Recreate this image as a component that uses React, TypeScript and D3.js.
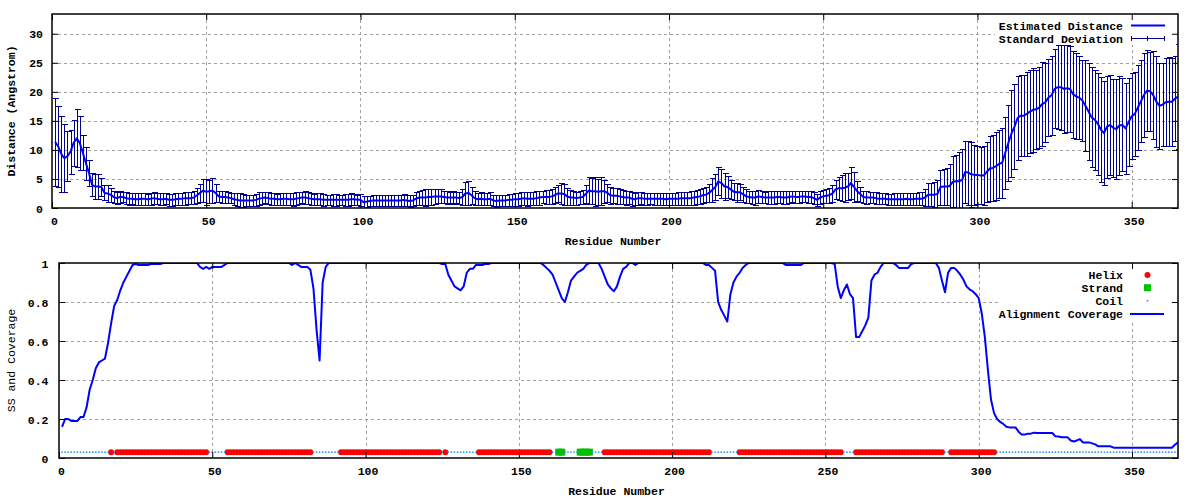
import React, { useEffect, useRef } from 'react';
import * as d3 from 'd3';

// residue 1..365, one value per residue
const DISTANCE = [
  11.4, 10.6, 9.3, 8.6, 8.9, 9.7, 11.2, 12.0, 11.2, 9.5,
  7.7, 6.0, 4.0, 3.7, 3.7, 3.6, 2.6, 2.5, 2.3, 1.9,
  1.7, 1.9, 1.9, 1.7, 1.6, 1.6, 1.5, 1.5, 1.6, 1.6,
  1.5, 1.6, 1.7, 1.6, 1.5, 1.5, 1.6, 1.4, 1.4, 1.5,
  1.6, 1.6, 1.7, 1.7, 1.7, 1.8, 2.2, 2.6, 3.0, 2.8,
  2.9, 3.0, 2.6, 2.0, 1.9, 1.9, 1.8, 1.7, 1.5, 1.4,
  1.3, 1.3, 1.3, 1.3, 1.3, 1.4, 1.6, 1.7, 1.8, 1.7,
  1.6, 1.6, 1.5, 1.5, 1.6, 1.6, 1.5, 1.5, 1.6, 1.7,
  1.8, 1.8, 1.7, 1.6, 1.5, 1.5, 1.5, 1.4, 1.4, 1.4,
  1.4, 1.4, 1.4, 1.4, 1.4, 1.4, 1.5, 1.5, 1.4, 1.4,
  1.0, 1.1, 1.2, 1.3, 1.3, 1.3, 1.3, 1.3, 1.3, 1.3,
  1.3, 1.3, 1.3, 1.4, 1.3, 1.2, 1.3, 1.6, 1.8, 1.8,
  1.8, 1.9, 1.9, 2.0, 2.0, 2.0, 1.9, 1.8, 1.8, 1.8,
  1.8, 1.7, 1.9, 2.5, 2.6, 2.2, 1.7, 1.5, 1.6, 1.5,
  1.5, 1.6, 1.3, 1.2, 1.3, 1.3, 1.3, 1.4, 1.4, 1.5,
  1.5, 1.6, 1.7, 1.6, 1.6, 1.6, 1.7, 1.8, 1.9, 1.9,
  1.9, 2.0, 2.2, 2.5, 2.5, 2.4, 2.0, 1.8, 1.8, 1.7,
  1.8, 1.9, 2.4, 3.0, 2.9, 2.9, 2.8, 2.9, 2.9, 2.6,
  2.2, 2.1, 2.1, 2.0, 1.9, 1.8, 1.8, 1.6, 1.5, 1.7,
  1.7, 1.6, 1.6, 1.6, 1.6, 1.6, 1.6, 1.6, 1.5, 1.6,
  1.6, 1.6, 1.6, 1.7, 1.7, 1.7, 1.7, 1.8, 1.9, 2.0,
  2.2, 2.3, 2.6, 3.1, 3.6, 4.6, 4.3, 3.7, 3.6, 3.2,
  2.8, 2.7, 2.7, 2.4, 2.0, 1.9, 1.8, 1.8, 2.0, 1.9,
  1.8, 1.8, 1.8, 1.8, 1.9, 1.9, 1.8, 1.8, 1.9, 2.0,
  1.9, 1.9, 2.0, 2.0, 1.9, 1.9, 1.7, 1.4, 1.8, 2.0,
  2.1, 2.2, 2.5, 3.2, 3.4, 3.4, 3.5, 3.7, 4.3, 3.6,
  2.9, 2.4, 1.9, 1.8, 1.8, 1.8, 1.7, 1.6, 1.6, 1.6,
  1.5, 1.5, 1.5, 1.5, 1.5, 1.5, 1.6, 1.5, 1.5, 1.6,
  1.6, 1.6, 1.8, 2.3, 2.3, 2.3, 2.4, 3.6, 3.7, 3.7,
  3.8, 4.5, 4.6, 4.6, 4.8, 6.2, 6.1, 5.8, 5.7, 5.7,
  5.6, 5.6, 6.2, 6.8, 6.9, 7.2, 7.6, 7.8, 9.5, 11.2,
  12.8, 14.0, 15.5, 15.9, 15.9, 16.2, 16.6, 16.9, 17.0, 17.3,
  17.9, 18.2, 19.0, 19.4, 20.5, 20.8, 20.8, 20.5, 20.6, 20.5,
  19.6, 19.2, 19.0, 18.5, 17.6, 16.6, 15.6, 15.2, 14.5, 13.5,
  12.9, 14.0, 14.3, 13.8, 13.6, 14.2, 14.3, 13.7, 14.8, 15.8,
  16.2, 17.3, 18.4, 19.5, 20.2, 20.1, 19.4, 18.3, 17.6, 17.8,
  18.2, 18.3, 18.3, 18.8, 19.2,
];

const STD_DEV = [
  7.6, 7.0, 6.5, 5.8, 4.3, 3.8, 4.0, 5.0, 4.6, 3.0,
  2.8, 2.2, 2.0, 2.1, 2.1, 1.6, 1.3, 1.4, 1.2, 1.0,
  1.0, 1.0, 0.9, 1.0, 1.0, 0.9, 1.0, 1.0, 1.0, 1.0,
  0.9, 1.0, 1.0, 0.9, 1.0, 1.0, 0.9, 1.0, 1.0, 1.0,
  1.0, 1.0, 1.1, 1.0, 1.0, 1.1, 1.3, 1.5, 2.0, 2.2,
  2.0, 2.1, 1.6, 1.0, 1.0, 1.0, 0.9, 0.9, 1.0, 1.1,
  1.2, 1.1, 1.0, 0.9, 1.0, 1.0, 1.1, 1.0, 1.0, 1.0,
  1.0, 1.0, 0.9, 1.0, 1.0, 1.0, 1.0, 1.1, 1.1, 1.0,
  1.0, 1.1, 1.0, 1.0, 0.9, 1.0, 1.0, 1.0, 0.9, 0.9,
  1.0, 1.0, 0.9, 0.9, 1.0, 1.0, 1.0, 0.9, 0.9, 1.0,
  1.0, 1.0, 0.9, 0.9, 1.0, 1.0, 1.0, 0.9, 0.9, 1.0,
  1.0, 0.9, 0.9, 1.0, 1.0, 1.0, 1.0, 1.1, 1.2, 1.3,
  1.4, 1.3, 1.4, 1.3, 1.2, 1.2, 1.1, 1.1, 1.0, 1.1,
  1.0, 1.0, 1.3, 1.9, 2.0, 1.5, 1.2, 1.0, 1.1, 1.0,
  1.0, 1.1, 1.0, 1.0, 0.9, 0.9, 1.0, 1.0, 1.0, 1.1,
  1.1, 1.1, 1.1, 1.2, 1.1, 1.1, 1.2, 1.2, 1.1, 1.2,
  1.2, 1.3, 1.4, 1.5, 1.8, 1.8, 1.5, 1.3, 1.2, 1.1,
  1.1, 1.2, 1.6, 2.3, 2.2, 2.5, 2.2, 2.4, 2.0, 1.6,
  1.5, 1.3, 1.4, 1.3, 1.2, 1.2, 1.1, 1.2, 1.0, 1.1,
  1.0, 1.0, 1.0, 0.9, 1.0, 1.0, 1.0, 1.0, 1.0, 1.0,
  1.0, 1.0, 1.1, 1.1, 1.1, 1.1, 1.2, 1.2, 1.2, 1.3,
  1.3, 1.3, 1.5, 2.0, 2.3, 2.4, 2.5, 2.3, 1.9, 1.6,
  1.5, 1.6, 1.4, 1.3, 1.2, 1.1, 1.1, 1.2, 1.1, 1.1,
  1.0, 1.1, 1.1, 1.1, 1.1, 1.0, 1.1, 1.1, 1.1, 1.0,
  1.0, 1.0, 1.0, 1.0, 1.1, 1.0, 1.0, 1.0, 1.1, 1.1,
  1.2, 1.3, 1.4, 1.6, 2.0, 2.2, 2.5, 2.4, 2.7, 2.6,
  1.7, 1.3, 1.1, 1.1, 1.0, 1.0, 1.0, 0.9, 0.9, 0.9,
  0.9, 0.9, 1.0, 1.0, 1.0, 1.0, 1.0, 1.0, 1.0, 1.0,
  1.1, 1.1, 1.5, 2.0, 2.0, 2.1, 2.4, 3.0, 3.1, 3.2,
  3.8, 4.4, 4.6, 5.0, 5.3, 5.3, 5.5, 5.6, 5.2, 5.0,
  4.9, 5.0, 5.2, 5.6, 5.7, 5.9, 5.9, 6.0, 6.2, 6.5,
  7.5, 7.3, 7.2, 7.0, 7.0, 7.3, 7.2, 7.2, 6.8, 7.0,
  7.2, 6.8, 6.6, 6.8, 6.8, 7.2, 7.3, 7.6, 7.5, 7.4,
  7.5, 7.4, 7.2, 7.0, 7.8, 8.4, 8.6, 8.6, 8.8, 9.0,
  9.0, 8.8, 8.6, 8.4, 8.6, 8.6, 8.0, 7.8, 7.6, 7.4,
  7.2, 7.3, 7.0, 7.2, 7.0, 6.8, 7.6, 7.8, 7.4, 7.2,
  7.6, 7.7, 7.6, 7.3, 9.0,
];

const COVERAGE = [
  0.16, 0.20, 0.20, 0.19, 0.19, 0.19, 0.21, 0.21, 0.26, 0.35,
  0.40, 0.46, 0.49, 0.50, 0.51, 0.59, 0.69, 0.78, 0.81, 0.86,
  0.90, 0.93, 0.96, 0.99, 0.995, 0.99, 0.99, 0.99, 0.99, 0.995,
  0.995, 0.995, 0.995, 1, 1, 1, 1, 1, 1, 1,
  1, 1, 1, 1, 1, 0.98, 0.97, 0.98, 0.97, 0.98,
  0.98, 0.98, 0.98, 0.99, 1, 1, 1, 1, 1, 1,
  1, 1, 1, 1, 1, 1, 1, 1, 1, 1,
  1, 1, 1, 1, 1, 0.99, 1, 0.99, 0.98, 0.98,
  0.98, 0.965, 0.87, 0.66, 0.50, 0.90, 0.98, 1, 1, 1,
  1, 1, 1, 1, 1, 1, 1, 1, 1, 1,
  1, 1, 1, 1, 1, 1, 1, 1, 1, 1,
  1, 1, 1, 1, 1, 1, 1, 1, 1, 1,
  1, 1, 1, 1, 0.995, 0.995, 0.94, 0.91, 0.88, 0.87,
  0.86, 0.88, 0.95, 0.97, 0.97, 0.99, 0.99, 0.99, 0.995, 0.995,
  1, 1, 1, 1, 1, 1, 1, 1, 1, 1,
  1, 1, 1, 1, 1, 1, 1, 0.99, 0.975, 0.96,
  0.94, 0.90, 0.86, 0.82, 0.80, 0.85, 0.91, 0.93, 0.95, 0.96,
  0.97, 0.99, 1, 1, 1, 1, 0.97, 0.93, 0.89, 0.87,
  0.855, 0.88, 0.93, 0.97, 0.98, 1, 1, 0.99, 1, 1,
  1, 1, 1, 1, 1, 1, 1, 1, 1, 1,
  1, 1, 1, 1, 1, 1, 1, 1, 1, 1,
  0.99, 0.99, 0.975, 0.96, 0.80, 0.76, 0.73, 0.70, 0.84, 0.90,
  0.93, 0.95, 0.975, 0.99, 1, 1, 1, 1, 1, 1,
  1, 1, 1, 1, 1, 1, 0.99, 0.99, 0.99, 0.99,
  0.99, 0.99, 1, 1, 1, 1, 1, 1, 1, 1,
  1, 1, 0.995, 0.88, 0.82, 0.86, 0.89, 0.84, 0.82, 0.62,
  0.62, 0.65, 0.68, 0.72, 0.91, 0.94, 0.95, 0.98, 1, 1,
  1, 1, 0.99, 0.975, 0.975, 0.975, 0.975, 0.995, 1, 1,
  1, 1, 1, 1, 1, 1, 0.975, 0.91, 0.85, 0.95,
  0.975, 0.975, 0.96, 0.94, 0.915, 0.88, 0.865, 0.855, 0.84, 0.82,
  0.74, 0.62, 0.45, 0.30, 0.23, 0.20, 0.185, 0.175, 0.16, 0.157,
  0.157, 0.157, 0.135, 0.12, 0.12, 0.125, 0.125, 0.13, 0.128, 0.128,
  0.128, 0.128, 0.128, 0.128, 0.111, 0.11, 0.106, 0.106, 0.106, 0.09,
  0.085, 0.09, 0.097, 0.08, 0.08, 0.08, 0.075, 0.07, 0.06, 0.06,
  0.06, 0.06, 0.06, 0.053, 0.053, 0.053, 0.053, 0.053, 0.053, 0.053,
  0.053, 0.053, 0.053, 0.053, 0.053, 0.053, 0.053, 0.053, 0.053, 0.053,
  0.053, 0.053, 0.053, 0.068, 0.08,
];

// secondary structure segments [first residue, last residue]
const HELIX = [[17, 17], [19, 48], [55, 82], [92, 124], [126, 126], [137, 160],
  [178, 212], [222, 255], [260, 288], [291, 305]];
const STRAND = [[163, 164], [170, 173]];
const SS_LEVEL = 0.03;

const RES_TICKS = [0, 50, 100, 150, 200, 250, 300, 350];
const DIST_TICKS = [0, 5, 10, 15, 20, 25, 30];
const COVER_TICKS = [0, 0.2, 0.4, 0.6, 0.8, 1];

const MONO = '"Liberation Mono", "DejaVu Sans Mono", monospace';

const App = () => {
  const svgRef = useRef<SVGSVGElement>(null);

  useEffect(() => {
    const svg = d3.select(svgRef.current);
    svg.selectAll('*').remove();

    const nRes = DISTANCE.length;
    const residues = DISTANCE.map((_, i) => i + 1);

    const ssOf = (r: number) => {
      if (HELIX.some(([a, b]) => r >= a && r <= b)) return 'H';
      if (STRAND.some(([a, b]) => r >= a && r <= b)) return 'E';
      return 'C';
    };

    const frame = (box: any, x: any, y: any, yTicks: number[], yFmt: any, labelGap: number,
                   yTitle: string, yTitleBold: boolean, keyBox: number[], clipId: string) => {
      const grid = svg.append('g')
        .attr('stroke', '#a0a0a0')
        .attr('stroke-width', 1)
        .attr('stroke-dasharray', '3,3');
      grid.selectAll('line.gx').data(RES_TICKS.filter(t => t > 0)).join('line')
        .attr('class', 'gx')
        .attr('x1', d => Math.round(x(d)) + 0.5).attr('x2', d => Math.round(x(d)) + 0.5)
        .attr('y1', box.top).attr('y2', box.bottom);
      grid.selectAll('line.gy').data(yTicks.filter(t => t > 0 && t < y.domain()[1])).join('line')
        .attr('class', 'gy')
        .attr('x1', box.left).attr('x2', box.right)
        .attr('y1', d => Math.round(y(d)) + 0.5).attr('y2', d => Math.round(y(d)) + 0.5);

      // opaque key background
      svg.append('rect')
        .attr('x', keyBox[0]).attr('y', keyBox[1])
        .attr('width', keyBox[2] - keyBox[0]).attr('height', keyBox[3] - keyBox[1])
        .attr('fill', '#fff');

      svg.append('clipPath').attr('id', clipId)
        .append('rect')
        .attr('x', box.left).attr('y', box.top)
        .attr('width', box.right - box.left).attr('height', box.bottom - box.top);

      const finish = () => {
        const style = (g: any) => {
          g.select('.domain').remove();
          g.attr('font-family', MONO).attr('font-size', 11.5).attr('font-weight', 'bold');
          g.selectAll('line').attr('stroke', '#000');
        };
        svg.append('g')
          .attr('transform', `translate(0,${box.bottom})`)
          .call(d3.axisBottom(x).tickValues(RES_TICKS).tickSize(-6).tickFormat(d3.format('d')))
          .call(style)
          .call((g: any) => g.selectAll('text').attr('y', 13.4).attr('dy', '0.35em').attr('dx', 2));
        svg.append('g')
          .attr('transform', `translate(0,${box.top})`)
          .call(d3.axisTop(x).tickValues(RES_TICKS).tickSize(-6).tickFormat(() => ''))
          .call(style);
        svg.append('g')
          .attr('transform', `translate(${box.left},0)`)
          .call(d3.axisLeft(y).tickValues(yTicks).tickSize(-6).tickPadding(labelGap).tickFormat(yFmt))
          .call(style)
          .call((g: any) => g.selectAll('text').attr('dy', '0.35em'));
        svg.append('g')
          .attr('transform', `translate(${box.right},0)`)
          .call(d3.axisRight(y).tickValues(yTicks).tickSize(-6).tickFormat(() => ''))
          .call(style);

        svg.append('rect')
          .attr('x', box.left).attr('y', box.top)
          .attr('width', box.right - box.left).attr('height', box.bottom - box.top)
          .attr('fill', 'none').attr('stroke', '#000').attr('stroke-width', 1.5);

        svg.append('text')
          .attr('x', (box.left + box.right) / 2 - 2).attr('y', box.bottom + 33).attr('dy', '0.35em')
          .attr('text-anchor', 'middle')
          .attr('font-family', MONO).attr('font-size', 11.5).attr('font-weight', 'bold')
          .text('Residue Number');
        svg.append('text')
          .attr('transform', `translate(11,${(box.top + box.bottom) / 2}) rotate(-90)`)
          .attr('dy', '0.35em')
          .attr('text-anchor', 'middle')
          .attr('font-family', MONO).attr('font-size', 11.5)
          .attr('font-weight', yTitleBold ? 'bold' : 'normal')
          .text(yTitle);
      };
      return finish;
    };

    // ---------- top panel: distance ----------
    const TOP = { left: 52, right: 1178, top: 14, bottom: 208 };
    const x1 = d3.scaleLinear().domain([0, 365]).range([TOP.left, TOP.right]);
    const y1 = d3.scaleLinear().domain([0, 33.4]).range([TOP.bottom, TOP.top]);

    const finishTop = frame(TOP, x1, y1, DIST_TICKS, d3.format('d'), 9,
      'Distance (Angstrom)', true, [995, TOP.top, TOP.right, 45], 'clipTop');

    const topData = svg.append('g').attr('clip-path', 'url(#clipTop)');
    const bars = topData.append('g').attr('stroke', '#000090').attr('stroke-width', 1)
      .attr('shape-rendering', 'crispEdges');
    residues.forEach((r, i) => {
      const cx = Math.round(x1(r)) + 0.5;
      const lo = y1(DISTANCE[i] - STD_DEV[i]);
      const hi = y1(DISTANCE[i] + STD_DEV[i]);
      bars.append('line').attr('x1', cx).attr('x2', cx).attr('y1', lo).attr('y2', hi);
      bars.append('line').attr('x1', cx - 3).attr('x2', cx + 3).attr('y1', Math.round(lo) + 0.5).attr('y2', Math.round(lo) + 0.5);
      bars.append('line').attr('x1', cx - 3).attr('x2', cx + 3).attr('y1', Math.round(hi) + 0.5).attr('y2', Math.round(hi) + 0.5);
    });
    topData.append('path')
      .datum(DISTANCE)
      .attr('fill', 'none')
      .attr('stroke', '#0000ff')
      .attr('stroke-width', 2)
      .attr('stroke-linejoin', 'round')
      .attr('d', d3.line<number>().x((_, i) => x1(i + 1)).y(d => y1(d)));

    finishTop();

    // top key
    const keyText = (x: number, y: number, t: string) =>
      svg.append('text').attr('x', x).attr('y', y).attr('dy', '0.35em').attr('text-anchor', 'end')
        .attr('font-family', MONO).attr('font-size', 11.5).attr('font-weight', 'bold').text(t);
    keyText(1123, 25.7, 'Estimated Distance');
    keyText(1123, 38.7, 'Standard Deviation');
    svg.append('line').attr('x1', 1131).attr('x2', 1165).attr('y1', 25.5).attr('y2', 25.5)
      .attr('stroke', '#0000ff').attr('stroke-width', 2);
    const kb = svg.append('g').attr('stroke', '#000090').attr('stroke-width', 1).attr('shape-rendering', 'crispEdges');
    kb.append('line').attr('x1', 1131).attr('x2', 1165).attr('y1', 38.5).attr('y2', 38.5);
    [1131.5, 1147.5, 1164.5].forEach(px => {
      kb.append('line').attr('x1', px).attr('x2', px).attr('y1', 36).attr('y2', 41);
    });

    // ---------- bottom panel: SS and coverage ----------
    const BOT = { left: 59, right: 1178, top: 263, bottom: 458 };
    const x2 = d3.scaleLinear().domain([0, 365]).range([BOT.left, BOT.right]);
    const y2 = d3.scaleLinear().domain([0, 1]).range([BOT.bottom, BOT.top]);

    const finishBot = frame(BOT, x2, y2, COVER_TICKS, d3.format('~g'), 10.5,
      'SS and Coverage', false, [998, BOT.top, BOT.right, 321], 'clipBot');

    const botData = svg.append('g').attr('clip-path', 'url(#clipBot)');
    const ssY = y2(SS_LEVEL);
    botData.append('g').selectAll('circle')
      .data(residues.filter(r => ssOf(r) === 'H')).join('circle')
      .attr('cx', r => x2(r)).attr('cy', ssY).attr('r', 3).attr('fill', '#ff0000');
    botData.append('g').selectAll('rect')
      .data(residues.filter(r => ssOf(r) === 'E')).join('rect')
      .attr('x', r => x2(r) - 3.5).attr('y', ssY - 3.5).attr('width', 7).attr('height', 7)
      .attr('fill', '#00c000');
    botData.append('g').selectAll('rect')
      .data(residues.filter(r => ssOf(r) === 'C')).join('rect')
      .attr('x', r => x2(r) - 0.75).attr('y', ssY - 0.75).attr('width', 1.5).attr('height', 1.5)
      .attr('fill', '#1e88ff');
    botData.append('path')
      .datum(COVERAGE)
      .attr('fill', 'none')
      .attr('stroke', '#0000ff')
      .attr('stroke-width', 2)
      .attr('stroke-linejoin', 'round')
      .attr('d', d3.line<number>().x((_, i) => x2(i + 1)).y(d => y2(d)));

    finishBot();

    keyText(1123, 275, 'Helix');
    keyText(1123, 287.7, 'Strand');
    keyText(1123, 300.7, 'Coil');
    keyText(1123, 314, 'Alignment Coverage');
    svg.append('circle').attr('cx', 1147.5).attr('cy', 275).attr('r', 3).attr('fill', '#ff0000');
    svg.append('rect').attr('x', 1144).attr('y', 284.2).attr('width', 7).attr('height', 7).attr('fill', '#00c000');
    svg.append('rect').attr('x', 1146.75).attr('y', 300).attr('width', 1.5).attr('height', 1.5).attr('fill', '#1e88ff');
    svg.append('line').attr('x1', 1130).attr('x2', 1164).attr('y1', 314).attr('y2', 314)
      .attr('stroke', '#0000ff').attr('stroke-width', 2);

    if (nRes !== STD_DEV.length || nRes !== COVERAGE.length) {
      console.warn('length mismatch', nRes, STD_DEV.length, COVERAGE.length);
    }
  }, []);

  return (
    <svg ref={svgRef} width={1200} height={500}
         style={{ position: 'absolute', left: 0, top: 0, background: '#fff' }} />
  );
};

export default App;
